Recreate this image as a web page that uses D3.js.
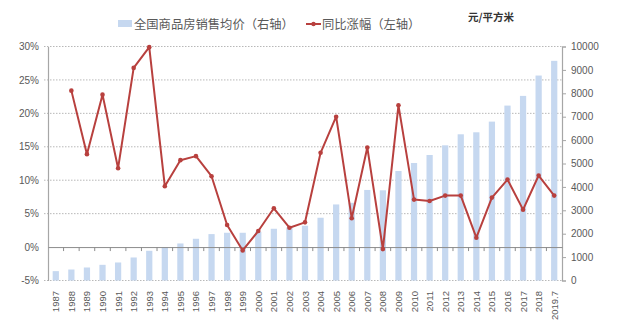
<!DOCTYPE html>
<html><head><meta charset="utf-8">
<script src="https://cdn.jsdelivr.net/npm/d3@7"></script>
<style>body{margin:0;background:#fff}svg{display:block}</style>
</head><body>
<svg id="c" width="620" height="335"></svg>
<script>
const years = ["1987","1988","1989","1990","1991","1992","1993","1994","1995","1996","1997","1998","1999","2000","2001","2002","2003","2004","2005","2006","2007","2008","2009","2010","2011","2012","2013","2014","2015","2016","2017","2018","2019.7"];
const avgPrice = [400,470,556,670,770,984,1270,1427,1583,1783,1983,2040,2040,2083,2211,2268,2340,2682,3250,3320,3870,3855,4679,5021,5364,5777,6248,6334,6790,7475,7889,8759,9387];
const yoyGrowth = [null,23.4,13.9,22.8,11.8,26.8,29.9,9.1,13.0,13.6,10.6,3.3,-0.5,2.4,5.8,2.9,3.7,14.1,19.5,4.3,14.9,-0.3,21.2,7.1,6.9,7.7,7.7,1.4,7.4,10.1,5.6,10.7,7.7];
const leftTicks = [-5,0,5,10,15,20,25,30];
const rightTicks = [0,1000,2000,3000,4000,5000,6000,7000,8000,9000,10000];
const barName = "全国商品房销售均价（右轴）";
const lineName = "同比涨幅（左轴）";
const unitLabel = "元/平方米";

const svg = d3.select("#c");
const X0 = 48, X1 = 562, YT = 46.5, YB = 280.5;
const x = d3.scaleBand().domain(years).range([X0, X1]).paddingInner(0.6).paddingOuter(0.3);
const yL = d3.scaleLinear().domain([-5, 30]).range([YB, YT]);
const yR = d3.scaleLinear().domain([0, 10000]).range([YB, YT]);
const txt = "#595959";
const numFont = "'Liberation Sans', Arial, sans-serif";
const cjk = "'Noto Sans CJK SC', sans-serif";
const red = "#b8403e", blue = "#c6d8f0";

// gridlines
svg.append("g").selectAll("line").data(leftTicks.filter(t => t !== 0)).join("line")
  .attr("x1", X0 - 4).attr("x2", X1).attr("y1", d => yL(d)).attr("y2", d => yL(d))
  .attr("stroke", "#a6a6a6").attr("stroke-width", 0.8).attr("stroke-dasharray", "1.5,1.5");

// bars
svg.append("g").selectAll("rect").data(years).join("rect")
  .attr("x", d => x(d)).attr("width", x.bandwidth())
  .attr("y", (d, i) => yR(avgPrice[i])).attr("height", (d, i) => yR(0) - yR(avgPrice[i]))
  .attr("fill", blue);

// left axis
const gL = svg.append("g").attr("transform", `translate(${X0},0)`)
  .call(d3.axisLeft(yL).tickValues(leftTicks).tickFormat(d => d + "%").tickSize(0).tickPadding(9));
gL.select(".domain").attr("stroke", "#a6a6a6").attr("stroke-width", 1.2);
gL.selectAll("text").attr("fill", txt).attr("font-family", numFont).attr("font-size", 10);

// right axis
const gR = svg.append("g").attr("transform", `translate(${X1},0)`)
  .call(d3.axisRight(yR).tickValues(rightTicks).tickFormat(d3.format("d")).tickSize(4).tickPadding(5));
gR.select(".domain").attr("stroke", "#a6a6a6").attr("stroke-width", 1.2);
gR.selectAll(".tick line").attr("stroke", "#a6a6a6");
gR.selectAll("text").attr("fill", txt).attr("font-family", numFont).attr("font-size", 10);

// zero axis with category ticks
const gX = svg.append("g").attr("transform", `translate(0,${yL(0)})`)
  .call(d3.axisBottom(x).tickSize(0).tickFormat(""));
gX.select(".domain").attr("stroke", "#8c8c8c").attr("stroke-width", 1);
const bounds = years.slice(1).map(d => x(d) - x.step() * x.paddingInner() / 2);
gX.append("g").selectAll("line").data(bounds).join("line")
  .attr("x1", d => d).attr("x2", d => d).attr("y1", 0).attr("y2", 4)
  .attr("stroke", "#8c8c8c").attr("stroke-width", 1);

// bottom category labels
svg.append("g").selectAll("text").data(years).join("text")
  .attr("transform", d => `translate(${x(d) + x.bandwidth() / 2 + 3.5},291) rotate(-90)`)
  .attr("text-anchor", "end").attr("fill", txt).attr("font-family", numFont).attr("font-size", 9.5)
  .text(d => d);

// line
const pts = years.map((d, i) => ({ d, v: yoyGrowth[i] })).filter(p => p.v !== null);
svg.append("path").datum(pts)
  .attr("d", d3.line().x(p => x(p.d) + x.bandwidth() / 2).y(p => yL(p.v)))
  .attr("fill", "none").attr("stroke", red).attr("stroke-width", 2).attr("stroke-linejoin", "round");
svg.append("g").selectAll("circle").data(pts).join("circle")
  .attr("cx", p => x(p.d) + x.bandwidth() / 2).attr("cy", p => yL(p.v)).attr("r", 2.3).attr("fill", red);

// legend
const lg = svg.append("g");
lg.append("rect").attr("x", 118).attr("y", 20).attr("width", 14).attr("height", 7).attr("fill", blue);
lg.append("text").attr("x", 134).attr("y", 28.5).attr("fill", txt).attr("font-family", cjk).attr("font-size", 12.3).text(barName);
lg.append("line").attr("x1", 306).attr("x2", 321).attr("y1", 24).attr("y2", 24).attr("stroke", red).attr("stroke-width", 2);
lg.append("circle").attr("cx", 313.5).attr("cy", 24).attr("r", 2.2).attr("fill", red);
lg.append("text").attr("x", 322).attr("y", 28.5).attr("fill", txt).attr("font-family", cjk).attr("font-size", 12.3).text(lineName);
svg.append("text").attr("x", 468).attr("y", 21).attr("fill", "#333").attr("font-family", cjk).attr("font-weight", "bold").attr("font-size", 10.5).text(unitLabel);
</script>
</body></html>
